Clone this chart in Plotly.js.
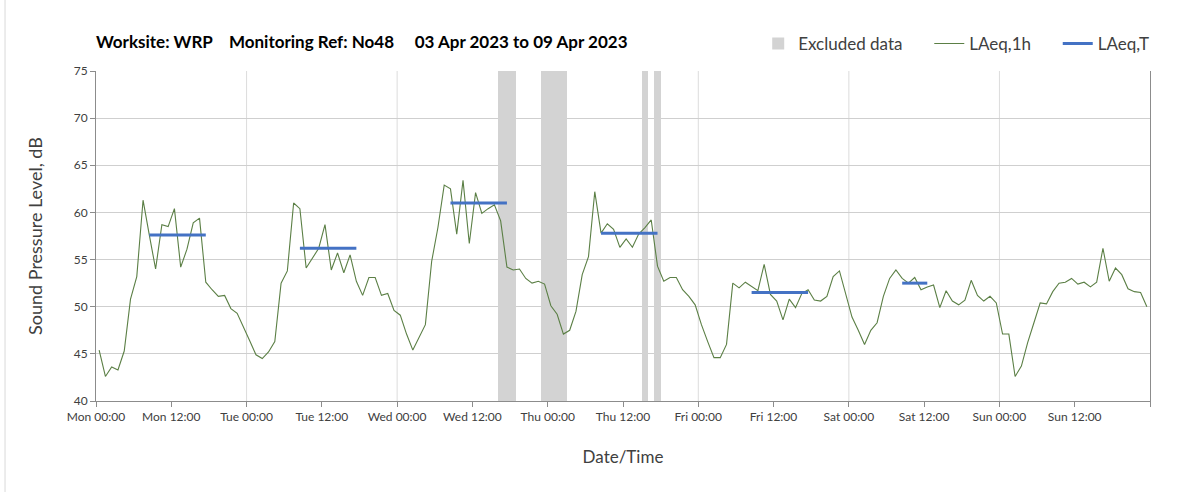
<!DOCTYPE html>
<html>
<head>
<meta charset="utf-8">
<script src="https://cdn.plot.ly/plotly-3.0.1.min.js"></script>
<style>
html, body { margin: 0; padding: 0; background: #ffffff; }
#chart { width: 1203px; height: 492px; }
</style>
</head>
<body>
<div id="chart"></div>
<script>
// ---------------- DATA ----------------
const weekStart = '2023-04-03 00:00';

// Hourly LAeq,1h values (dB), one per hour, Mon 00:00 .. Sun 23:00
const laeqMon = [45.4, 42.6, 43.6, 43.3, 45.3, 50.8, 53.2, 61.3, 57.6, 54.0, 58.7, 58.5, 60.4, 54.2, 56.1, 58.9, 59.4, 52.6, 51.8, 51.1, 51.2, 49.8, 49.3, 47.9];
const laeqTue = [46.4, 44.9, 44.5, 45.2, 46.3, 52.5, 53.8, 61.0, 60.4, 54.1, 55.1, 56.2, 58.7, 53.9, 55.7, 53.6, 55.5, 52.7, 51.2, 53.1, 53.1, 51.2, 51.4, 49.6];
const laeqWed = [49.1, 47.1, 45.4, 46.7, 48.1, 54.8, 58.4, 62.9, 62.5, 57.7, 63.4, 56.7, 62.1, 59.9, 60.4, 60.8, 59.1, 54.2, 53.9, 54.0, 53.0, 52.5, 52.7, 52.4];
const laeqThu = [50.1, 49.2, 47.1, 47.5, 49.5, 53.4, 55.3, 62.2, 57.8, 58.8, 58.2, 56.3, 57.2, 56.3, 57.7, 58.4, 59.2, 54.3, 52.7, 53.1, 53.1, 51.8, 51.1, 50.2];
const laeqFri = [48.1, 46.3, 44.6, 44.6, 46.0, 52.5, 52.0, 52.6, 52.1, 51.7, 54.5, 51.3, 50.6, 48.6, 50.8, 49.9, 51.4, 51.8, 50.7, 50.6, 51.1, 53.2, 53.8, 51.2];
const laeqSat = [48.9, 47.5, 46.0, 47.5, 48.3, 51.1, 53.0, 53.9, 53.0, 52.5, 53.1, 51.8, 52.1, 52.3, 49.9, 51.7, 50.6, 50.2, 50.7, 52.8, 51.2, 50.6, 51.1, 50.4];
const laeqSun = [47.1, 47.1, 42.6, 43.7, 46.2, 48.3, 50.4, 50.3, 51.6, 52.5, 52.6, 53.0, 52.4, 52.6, 52.1, 52.6, 56.2, 52.7, 54.1, 53.4, 51.9, 51.6, 51.5, 50.0];

// LAeq,T over working periods
const periodStart = ['2023-04-03 08:30', '2023-04-04 08:30', '2023-04-05 08:30', '2023-04-06 08:30', '2023-04-07 08:30', '2023-04-08 08:30'];
const periodEnd   = ['2023-04-03 17:30', '2023-04-04 17:30', '2023-04-05 17:30', '2023-04-06 17:30', '2023-04-07 17:30', '2023-04-08 12:30'];
const laeqT       = [57.6, 56.2, 61.0, 57.8, 51.5, 52.5];

// Excluded data periods
const excludedStart = ['2023-04-05 16:00', '2023-04-05 23:00', '2023-04-06 15:00', '2023-04-06 17:00'];
const excludedEnd   = ['2023-04-05 19:00', '2023-04-06 03:00', '2023-04-06 16:00', '2023-04-06 18:00'];

// Tick labels (every 12 h)
const tickLabels = ['Mon 00:00', 'Mon 12:00', 'Tue 00:00', 'Tue 12:00', 'Wed 00:00', 'Wed 12:00', 'Thu 00:00', 'Thu 12:00',
                    'Fri 00:00', 'Fri 12:00', 'Sat 00:00', 'Sat 12:00', 'Sun 00:00', 'Sun 12:00', ''];

const yRange = [40, 75];

// ---------------- HELPERS ----------------
const HOUR = 3600000;
function toMs(s) { return Date.parse(s.replace(' ', 'T') + ':00Z'); }
function toStr(ms) { return new Date(ms).toISOString().slice(0, 16).replace('T', ' '); }

const t0 = toMs(weekStart);
const laeq1h = [].concat(laeqMon, laeqTue, laeqWed, laeqThu, laeqFri, laeqSat, laeqSun);
const hourTimes = laeq1h.map((v, i) => toStr(t0 + (i + 0.5) * HOUR));

const exCenters = excludedStart.map((s, i) => toStr((toMs(s) + toMs(excludedEnd[i])) / 2));
const exWidths = excludedStart.map((s, i) => toMs(excludedEnd[i]) - toMs(s));

const tX = [], tY = [];
laeqT.forEach((v, i) => { tX.push(periodStart[i], periodEnd[i], null); tY.push(v, v, null); });

const tickVals = tickLabels.map((l, i) => toStr(t0 + i * 12 * HOUR));

const font = 'Lato, "Open Sans", sans-serif';
const pad = '\u00a0\u00a0\u00a0\u00a0\u00a0';
const shapes = [];
for (let d = 1; d <= 6; d++) {
  const x = toStr(t0 + d * 24 * HOUR);
  shapes.push({ type: 'line', xref: 'x', yref: 'paper', x0: x, x1: x, y0: 0, y1: 1,
                line: { color: '#dcdcdc', width: 1 }, layer: 'below' });
}
// outer frame line at left
shapes.push({ type: 'line', xref: 'paper', yref: 'paper', x0: -0.0863, x1: -0.0863, y0: -0.3, y1: 1.3,
              line: { color: '#d9d9d9', width: 1 } });

// ---------------- TRACES ----------------
const traces = [
  {
    type: 'bar', name: 'Excluded data' + pad,
    x: exCenters, y: excludedStart.map(() => yRange[1] - yRange[0]), base: yRange[0],
    width: exWidths, marker: { color: '#d3d3d3', line: { width: 0 } },
    hoverinfo: 'skip'
  },
  {
    type: 'scatter', mode: 'lines', name: 'LAeq,1h' + pad,
    x: hourTimes, y: laeq1h,
    line: { color: '#5b7f45', width: 1.1 }
  },
  {
    type: 'scatter', mode: 'lines', name: 'LAeq,T',
    x: tX, y: tY, connectgaps: false,
    line: { color: '#4472c4', width: 3 }
  }
];

const layout = {
  width: 1203, height: 492,
  paper_bgcolor: '#ffffff', plot_bgcolor: '#ffffff',
  margin: { l: 96, r: 53, t: 71, b: 91, autoexpand: false },
  font: { family: font, color: '#404040' },
  title: {
    text: '<b>Worksite: WRP    Monitoring Ref: No48     03 Apr 2023 to 09 Apr 2023</b>',
    font: { family: font, size: 17, color: '#000000' },
    x: 0, xref: 'paper', xanchor: 'left',
    y: 1 - 42 / 492, yref: 'container', yanchor: 'middle'
  },
  showlegend: true,
  legend: {
    orientation: 'h', x: 1.004, xanchor: 'right', xref: 'paper',
    y: 1.082, yanchor: 'middle', yref: 'paper',
    font: { family: font, size: 17, color: '#404040' },
    bgcolor: 'rgba(0,0,0,0)', traceorder: 'normal'
  },
  bargap: 0,
  xaxis: {
    type: 'date',
    range: [toStr(t0), toStr(t0 + 168 * HOUR)],
    tickmode: 'array', tickvals: tickVals, ticktext: tickLabels,
    ticks: 'outside', ticklen: 5, tickcolor: '#8c8c8c',
    showgrid: false, showline: true, linecolor: '#8c8c8c', linewidth: 1,
    zeroline: false,
    tickfont: { family: font, size: 12, color: '#404040' },
    title: { text: 'Date/Time', font: { family: font, size: 17, color: '#404040' }, standoff: 27 }
  },
  yaxis: {
    range: yRange, dtick: 5, tick0: 40,
    ticks: 'outside', ticklen: 5, tickcolor: '#8c8c8c',
    showgrid: true, gridcolor: '#cfcfcf', gridwidth: 1,
    showline: true, linecolor: '#8c8c8c', linewidth: 1, mirror: true,
    zeroline: false,
    tickfont: { family: font, size: 12, color: '#404040' },
    title: { text: 'Sound Pressure Level, dB', font: { family: font, size: 18, color: '#404040' }, standoff: 26 }
  },
  shapes: shapes
};

Plotly.newPlot('chart', traces, layout, { staticPlot: true, displayModeBar: false });
</script>
</body>
</html>
